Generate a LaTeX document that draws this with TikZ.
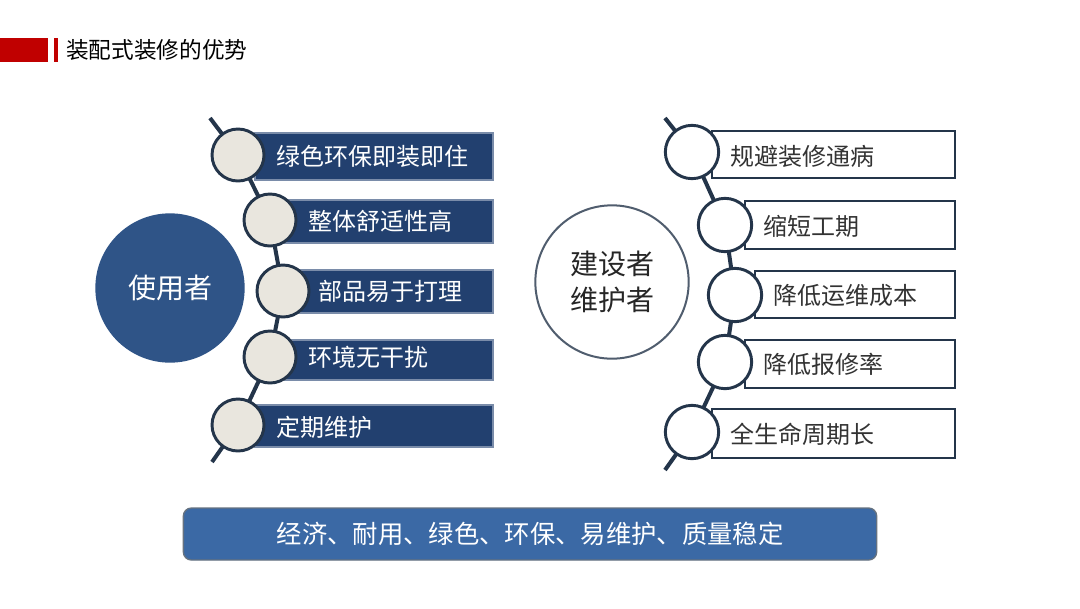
\documentclass[tikz,border=0pt]{standalone}
\usepackage{fontspec}
\newfontfamily\cjk{Noto Sans CJK SC}
\definecolor{navy}{HTML}{22406F}
\definecolor{bigblue}{HTML}{2F5487}
\definecolor{cfill}{HTML}{E9E6DE}
\definecolor{cline}{HTML}{24354A}
\definecolor{botblue}{HTML}{3B69A5}
\definecolor{hred}{HTML}{C00000}
\begin{document}
\begin{tikzpicture}[x=0.75pt,y=-0.75pt,
  lbar/.style={fill=navy,draw=navy!60!white,line width=1pt},
  rbar/.style={fill=white,draw=cline,line width=1.5pt},
  bead/.style={circle,fill=cfill,draw=cline,line width=2.2pt,minimum size=39pt,inner sep=0pt},
  rbead/.style={circle,fill=white,draw=cline,line width=2.2pt,minimum size=40pt,inner sep=0pt},
  chain/.style={draw=cline,line width=3pt},
  ltxt/.style={text=white,font=\cjk\fontsize{18}{18}\selectfont,anchor=west,inner sep=0pt},
  rtxt/.style={text=black!80,font=\cjk\fontsize{18}{18}\selectfont,anchor=west,inner sep=0pt}]
\useasboundingbox (0,0) rectangle (1080,608);
\fill[white] (0,0) rectangle (1080,608);
% header
\fill[hred] (0,38) rectangle (48,62);
\fill[hred] (54,38) rectangle (58,62);
\node[anchor=west,inner sep=0pt,font=\cjk\fontsize{17}{17}\selectfont] (title) at (66,50) {装配式装修的优势};
% left side
\node[circle,fill=bigblue,minimum size=112pt,inner sep=0pt,text=white,font=\cjk\fontsize{21}{21}\selectfont] (user) at (170,288) {使用者};
\coordinate (lt) at (210,118); \coordinate (lb) at (212,462);
\draw[lbar] (255,133) rectangle (493,180);
\draw[lbar] (285,200) rectangle (493,243);
\draw[lbar] (295,270) rectangle (493,313);
\draw[lbar] (285,340) rectangle (493,380);
\draw[lbar] (255,405) rectangle (493,447);
\coordinate (l1) at (238,155); \coordinate (l2) at (270,220); \coordinate (l3) at (283,291);
\coordinate (l4) at (270,357); \coordinate (l5) at (238,425);
\draw[chain] (lt) -- (l1) -- (l2) -- (l3) -- (l4) -- (l5) -- (lb);
\node[bead] (b1) at (l1) {}; \node[bead] (b2) at (l2) {}; \node[bead] (b3) at (l3) {};
\node[bead] (b4) at (l4) {}; \node[bead] (b5) at (l5) {};
\node[ltxt] (t1) at (276,156) {绿色环保即装即住};
\node[ltxt] (t2) at (308,221) {整体舒适性高};
\node[ltxt] (t3) at (318,291) {部品易于打理};
\node[ltxt] (t4) at (308,357) {环境无干扰};
\node[ltxt] (t5) at (276,427) {定期维护};
% right side
\node[circle,draw=cline!80,line width=1.5pt,fill=white,minimum size=115pt,inner sep=0pt,align=center,font=\cjk\fontsize{21}{27}\selectfont,text=black!85] (builder) at (612,282) {建设者\\维护者};
\coordinate (rt) at (665,118); \coordinate (rb) at (665,470);
\draw[rbar] (712,131) rectangle (955,178);
\draw[rbar] (745,201) rectangle (955,249);
\draw[rbar] (755,271) rectangle (955,318);
\draw[rbar] (745,340) rectangle (955,388);
\draw[rbar] (712,409) rectangle (955,458);
\coordinate (r1) at (692,152); \coordinate (r2) at (725,225); \coordinate (r3) at (735,295);
\coordinate (r4) at (725,362); \coordinate (r5) at (692,432);
\draw[chain] (rt) -- (r1) -- (r2) -- (r3) -- (r4) -- (r5) -- (rb);
\node[rbead] (c1) at (r1) {}; \node[rbead] (c2) at (r2) {}; \node[rbead] (c3) at (r3) {};
\node[rbead] (c4) at (r4) {}; \node[rbead] (c5) at (r5) {};
\node[rtxt] (s1) at (730,156) {规避装修通病};
\node[rtxt] (s2) at (763,226) {缩短工期};
\node[rtxt] (s3) at (773,295) {降低运维成本};
\node[rtxt] (s4) at (763,364) {降低报修率};
\node[rtxt] (s5) at (730,434) {全生命周期长};
% bottom
\node[rounded corners=6pt,fill=botblue,draw=cline!70,line width=1pt,minimum width=520pt,minimum height=39pt,text=white,font=\cjk\fontsize{19}{19}\selectfont] (sum) at (530,534) {经济、耐用、绿色、环保、易维护、质量稳定};
\end{tikzpicture}
\end{document}
